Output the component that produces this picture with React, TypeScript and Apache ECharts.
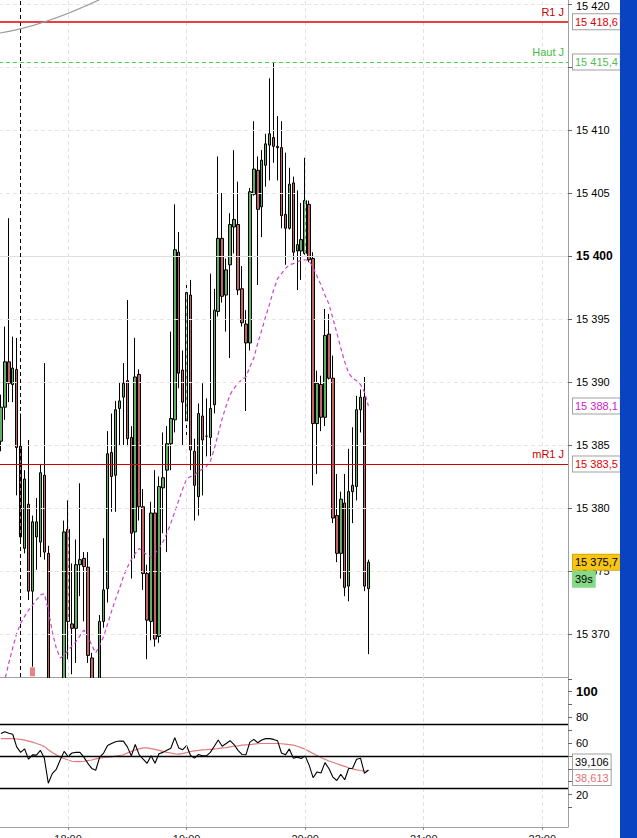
import React, { useEffect, useRef } from 'react';
import * as echarts from 'echarts';

// ---------- data ----------
const START_MIN = 17 * 60 + 26; // first 2-minute candle 17:26
const N_CAT = 144;
const categories: string[] = Array.from({ length: N_CAT }, (_, i) => {
  const m = START_MIN + 2 * i;
  return `${Math.floor(m / 60)}:${String(m % 60).padStart(2, '0')}`;
});
const hourLabels = ['18:00', '19:00', '20:00', '21:00', '22:00'];

// [open, close, low, high]
const ohlc: number[][] = [
  [15385.3, 15388.0, 15384.5, 15389.0],
  [15388.0, 15391.6, 15387.0, 15394.4],
  [15391.6, 15389.9, 15388.4, 15403.0],
  [15389.8, 15391.1, 15388.4, 15393.6],
  [15391.0, 15384.8, 15381.0, 15393.5],
  [15384.9, 15377.7, 15377.2, 15387.5],
  [15376.8, 15382.3, 15376.4, 15383.0],
  [15380.3, 15373.4, 15372.7, 15385.4],
  [15373.4, 15378.9, 15367.4, 15379.4],
  [15377.7, 15378.9, 15375.1, 15380.8],
  [15377.3, 15382.8, 15376.1, 15383.5],
  [15382.6, 15376.5, 15375.9, 15391.5],
  [15376.4, 15366.0, 15365.0, 15377.0],
  [15366.0, 15364.6, 15363.5, 15366.4],
  [15364.6, 15365.4, 15364.0, 15366.2],
  [15365.4, 15366.0, 15364.8, 15366.5],
  [15366.0, 15378.1, 15365.5, 15379.0],
  [15378.3, 15371.0, 15368.0, 15380.6],
  [15370.8, 15370.45, 15366.8, 15375.6],
  [15370.45, 15375.5, 15367.7, 15377.5],
  [15375.5, 15375.9, 15373.0, 15381.96],
  [15376.0, 15375.35, 15371.0, 15376.5],
  [15375.3, 15368.3, 15367.7, 15376.5],
  [15368.1, 15366.3, 15365.5, 15368.5],
  [15366.3, 15365.8, 15365.0, 15366.5],
  [15366.0, 15371.0, 15365.5, 15371.5],
  [15371.0, 15373.5, 15370.5, 15377.6],
  [15373.6, 15384.3, 15372.5, 15386.1],
  [15384.4, 15382.5, 15379.7, 15387.5],
  [15382.6, 15387.8, 15379.7, 15388.5],
  [15387.9, 15388.5, 15385.0, 15390.0],
  [15388.8, 15389.9, 15385.0, 15391.5],
  [15390.1, 15385.5, 15384.9, 15396.5],
  [15385.6, 15378.0, 15374.4, 15386.5],
  [15378.1, 15390.4, 15376.0, 15393.5],
  [15390.6, 15380.1, 15379.0, 15391.0],
  [15380.1, 15374.8, 15373.5, 15381.5],
  [15374.8, 15371.1, 15368.0, 15375.5],
  [15371.0, 15379.6, 15369.5, 15380.5],
  [15379.6, 15369.6, 15369.0, 15383.0],
  [15369.8, 15381.7, 15369.3, 15382.5],
  [15381.6, 15382.4, 15378.0, 15386.0],
  [15383.0, 15385.1, 15376.5, 15386.5],
  [15385.1, 15387.1, 15383.0, 15394.0],
  [15387.0, 15400.5, 15386.0, 15404.1],
  [15400.3, 15390.7, 15389.5, 15401.9],
  [15390.95, 15388.4, 15385.0, 15392.5],
  [15386.9, 15397.1, 15385.5, 15397.7],
  [15396.9, 15384.6, 15383.0, 15398.1],
  [15384.5, 15381.8, 15379.0, 15385.5],
  [15380.9, 15387.5, 15379.4, 15388.3],
  [15387.3, 15385.4, 15381.0, 15389.9],
  [15385.7, 15385.7, 15384.1, 15388.7],
  [15385.6, 15387.9, 15384.1, 15398.6],
  [15388.2, 15395.7, 15387.5, 15397.4],
  [15395.6, 15401.4, 15395.2, 15407.9],
  [15401.4, 15396.8, 15396.3, 15405.0],
  [15396.9, 15398.9, 15394.0, 15399.8],
  [15399.3, 15402.5, 15391.9, 15403.4],
  [15402.3, 15402.9, 15400.2, 15408.4],
  [15402.5, 15397.3, 15396.9, 15405.9],
  [15397.4, 15394.7, 15394.4, 15399.2],
  [15394.6, 15393.1, 15387.7, 15395.7],
  [15393.1, 15405.1, 15392.5, 15405.4],
  [15404.9, 15406.9, 15404.8, 15410.7],
  [15406.8, 15403.7, 15397.7, 15407.9],
  [15403.9, 15407.6, 15401.5, 15408.4],
  [15407.2, 15408.9, 15405.5, 15409.7],
  [15408.8, 15409.7, 15406.0, 15414.1],
  [15409.4, 15408.7, 15407.4, 15415.4],
  [15408.7, 15408.6, 15406.0, 15411.1],
  [15408.6, 15403.2, 15402.2, 15410.7],
  [15403.3, 15402.2, 15399.3, 15408.2],
  [15402.2, 15405.7, 15402.1, 15407.0],
  [15405.8, 15400.3, 15399.7, 15406.3],
  [15400.4, 15400.9, 15397.3, 15405.2],
  [15400.4, 15401.3, 15398.1, 15404.2],
  [15400.2, 15404.4, 15400.1, 15407.8],
  [15404.1, 15399.7, 15399.5, 15404.4],
  [15399.8, 15386.7, 15381.8, 15400.3],
  [15386.7, 15389.9, 15382.7, 15390.9],
  [15389.8, 15387.2, 15386.1, 15390.5],
  [15387.2, 15393.7, 15386.5, 15395.8],
  [15393.8, 15390.3, 15390.2, 15395.4],
  [15390.3, 15379.2, 15378.8, 15392.1],
  [15379.4, 15376.4, 15375.7, 15382.7],
  [15376.4, 15380.7, 15374.4, 15381.3],
  [15380.4, 15373.7, 15373.0, 15382.7],
  [15373.8, 15381.3, 15372.6, 15384.7],
  [15381.3, 15381.8, 15378.8, 15386.4],
  [15381.7, 15387.8, 15380.6, 15388.9],
  [15387.8, 15388.8, 15386.0, 15389.4],
  [15388.8, 15373.8, 15373.4, 15390.4],
  [15373.6, 15375.7, 15368.4, 15375.9],
];

const movingAvg: number[] = [
  15366.2, 15366.35, 15367.7, 15368.9, 15370.05, 15370.85, 15371.4, 15371.9, 15372.3, 15372.7,
  15373.1, 15373.2, 15371.9, 15370.2, 15368.9, 15368.1, 15368.3, 15368.7, 15369.05, 15369.4,
  15369.85, 15370.3, 15369.85, 15369.1, 15368.5, 15369.1, 15369.8, 15370.8, 15371.8, 15372.75,
  15373.6, 15374.55, 15375.3, 15375.9, 15376.4, 15376.8, 15376.5, 15376.3, 15376.1, 15376.4,
  15376.8, 15377.3, 15378.0, 15378.8, 15379.7, 15380.6, 15381.5, 15382.3, 15382.5, 15382.6,
  15382.9, 15383.1, 15383.3, 15383.7, 15384.7, 15385.9, 15387.1, 15388.1, 15389.0, 15389.5,
  15389.9, 15390.2, 15390.4, 15391.2, 15391.9, 15393.1, 15394.1, 15395.2, 15396.2, 15397.3,
  15398.2, 15398.6, 15399.0, 15399.3, 15399.4, 15399.5, 15399.7, 15399.7, 15399.6, 15399.1,
  15398.4, 15397.7, 15396.9, 15396.2, 15395.05, 15393.9, 15392.7, 15391.6, 15390.7, 15390.3,
  15390.1, 15389.8, 15389.2, 15388.1,
];

const oscK: number[] = [
  67.5, 68.8, 67.7, 66.9, 57.1, 52.8, 55.5, 47.5, 50.9, 50.7,
  54.4, 48.3, 28.8, 36.3, 39.5, 46.9, 53.6, 49.6, 52.3, 52.8,
  52.8, 49.1, 44.3, 40.3, 38.9, 49.1, 52.3, 58.1, 59.7, 61.1,
  61.6, 61.6, 57.1, 50.1, 58.9, 50.9, 47.5, 44.3, 50.1, 44.3,
  51.7, 52.8, 54.4, 56.0, 64.3, 56.3, 54.9, 58.0, 50.4, 48.3,
  51.2, 50.1, 50.1, 52.8, 57.6, 62.4, 57.6, 59.7, 61.9, 58.9,
  54.4, 51.2, 50.9, 60.8, 62.9, 60.3, 62.4, 63.5, 63.5, 62.9,
  61.9, 52.3, 50.9, 55.5, 48.3, 49.1, 48.0, 50.1, 42.9, 33.1,
  37.6, 36.8, 44.8, 40.3, 33.6, 30.9, 35.7, 31.5, 40.3, 40.5,
  47.5, 48.3, 36.5, 39.1,
];

const oscD: number[] = [
  63.5, 63.5, 63.5, 63.5, 63.2, 62.9, 62.4, 61.6, 60.8, 59.7,
  58.7, 57.3, 54.9, 52.8, 50.9, 49.1, 48.0, 46.9, 45.9, 45.6,
  45.6, 45.9, 46.4, 46.9, 47.7, 48.3, 48.8, 49.1, 49.3, 49.9,
  50.4, 50.9, 52.3, 53.6, 54.7, 55.5, 56.3, 56.3, 55.7, 55.2,
  54.4, 53.6, 52.8, 52.3, 51.7, 51.5, 51.9, 52.6, 53.5, 54.0,
  54.3, 54.7, 54.9, 55.2, 55.5, 55.7, 56.3, 56.5, 57.1, 57.6,
  57.9, 58.4, 58.7, 58.9, 59.2, 59.5, 59.7, 59.7, 59.7, 59.7,
  59.7, 59.5, 59.2, 58.9, 58.4, 57.6, 56.5, 55.2, 53.6, 52.0,
  50.4, 48.8, 47.5, 46.1, 45.1, 44.0, 42.9, 41.9, 40.8, 40.0,
  39.2, 38.7, 38.1, 38.6,
];

const priceTicks = [15370, 15375, 15380, 15385, 15390, 15395, 15400, 15405, 15410, 15415, 15420];
// 15 415 is covered by the "Haut J" value box in the reference
const priceLabels = [15370, 15375, 15380, 15385, 15390, 15395, 15400, 15405, 15410, 15420];
const oscTicks = [10, 20, 30, 40, 50, 60, 70, 80, 90, 100, 110];
// 40 is covered by the oscillator value box in the reference
const oscLabels = [20, 60, 80, 100];
const oscLevels = [25, 50, 75];
const levelR1 = 15418.6;
const levelHigh = 15415.4;
const levelMR1 = 15383.5;
const lastMA = 15388.1;
const lastPrice = 15375.7;
const timerText = '39s';
const lastK = 39.106;
const lastD = 38.613;
const sessionLineCat = '17:36';
const signalMarks = [{ cat: '17:42', price: 15367.0 }];

// ---------- helpers ----------
const group = (s: string) => s.replace(/\B(?=(\d{3})+(?!\d))/g, ' ');
const fmtNum = (v: number, d: number, grp: boolean) => {
  const [a, b] = v.toFixed(d).split('.');
  const ip = grp ? group(a) : a;
  return b ? `${ip},${b}` : ip;
};

const FONT = 'Liberation Sans, Arial, sans-serif';

const boxItem = (value: number, text: string, color: string, extra: any = {}) => ({
  yAxis: value,
  lineStyle: { color: 'rgba(0,0,0,0)', width: 0 },
  label: {
    show: true,
    position: 'end',
    distance: 5,
    formatter: text,
    color,
    fontSize: 11,
    fontFamily: FONT,
    backgroundColor: '#ffffff',
    borderColor: '#a0a0a0',
    borderWidth: 1,
    padding: [2, 2, 2, 2],
    ...extra,
  },
});

const levelSeries = (name: string, value: number, text: string, lineColor: string, textColor: string, dashed: boolean, width: number) => ({
  name, type: 'line', xAxisIndex: 0, yAxisIndex: 0, data: [], z: 5,
  color: lineColor,
  markLine: {
    silent: true, symbol: 'none',
    lineStyle: { color: lineColor, width, type: dashed ? [4, 3] : 'solid', opacity: 1 },
    label: { show: true, position: 'insideEndTop', formatter: text, color: textColor, fontSize: 11, distance: 4 },
    data: [{ yAxis: value }],
  },
});

export default function App() {
  const ref = useRef<HTMLDivElement>(null);
  useEffect(() => {
    if (!ref.current) return;
    const chart = echarts.init(ref.current, undefined, { renderer: 'svg' });

    const gridLinesPrice = priceTicks.map((v) => ({
      yAxis: v,
      lineStyle: v === 15400
        ? { color: '#dedede', width: 1, type: 'solid' }
        : { color: '#e6e6e6', width: 1, type: [4, 3] },
    }));
    const vLines = () => hourLabels.map((h) => ({
      xAxis: h,
      lineStyle: { color: '#e2e2e2', width: 1, type: [4, 3] },
    }));

    const priceLabelFmt = (v: number) => {
      const s = fmtNum(v, 0, true);
      if (v === 15400) return `{b|${s}}`;
      if (v === 15420) return `{t|${s}}`;
      return s;
    };

    const option: any = {
      animation: false,
      textStyle: { fontFamily: FONT },
      grid: [
        { left: -1.1, right: 69, top: 0, height: 677, outerBoundsMode: 'none', containLabel: false },
        { left: -1.1, right: 69, top: 677, height: 150, outerBoundsMode: 'none', containLabel: false },
      ],
      xAxis: [
        {
          type: 'category', gridIndex: 0, data: categories, boundaryGap: true,
          axisLabel: { show: false }, axisTick: { show: false },
          axisLine: { show: true, onZero: false, lineStyle: { color: '#a0a0a0' } },
          splitLine: { show: false },
        },
        {
          type: 'category', gridIndex: 1, data: categories, boundaryGap: true,
          axisLine: { show: true, onZero: false, lineStyle: { color: '#a0a0a0' } },
          axisTick: {
            show: true, alignWithLabel: true, length: 3,
            interval: (_i: number, v: string) => hourLabels.includes(v),
            lineStyle: { color: '#888' },
          },
          axisLabel: {
            interval: (_i: number, v: string) => hourLabels.includes(v),
            fontSize: 11, color: '#222', margin: 6,
          },
          splitLine: { show: false },
        },
      ],
      yAxis: [
        {
          type: 'value', gridIndex: 0, position: 'right', min: 15366.587, max: 15420.317,
          axisLine: { show: true, lineStyle: { color: '#a0a0a0' } },
          axisTick: { show: true, length: 4, customValues: priceTicks, lineStyle: { color: '#666' } },
          axisLabel: {
            customValues: priceLabels, margin: 8, fontSize: 11, color: '#000',
            formatter: priceLabelFmt,
            rich: {
              b: { fontWeight: 'bold', fontSize: 12, color: '#000' },
              t: { fontSize: 11, color: '#000', padding: [4, 0, 0, 0] },
            },
          },
          splitLine: { show: false },
        },
        {
          type: 'value', gridIndex: 1, position: 'right', min: -5.26, max: 111.46,
          axisLine: { show: true, lineStyle: { color: '#a0a0a0' } },
          axisTick: { show: true, length: 4, customValues: oscTicks, lineStyle: { color: '#666' } },
          axisLabel: {
            customValues: oscLabels, margin: 8, fontSize: 11, color: '#000',
            formatter: (v: number) => (v === 100 ? `{b|${v}}` : `${v}`),
            rich: { b: { fontWeight: 'bold', fontSize: 13, color: '#000' } },
          },
          splitLine: { show: false },
        },
      ],
      graphic: [
        // masks the part of candles that falls below the price pane
        { type: 'rect', shape: { x: 0, y: 678, width: 567.5, height: 148.5 }, style: { fill: '#ffffff' }, z: 2.5 },
        { type: 'rect', shape: { x: 620, y: 0, width: 17, height: 838 }, style: { fill: '#0a43c2' }, z: 10 },
        {
          type: 'bezierCurve',
          shape: { x1: 0, y1: 33, cpx1: 44, cpy1: 26, x2: 101, y2: -1 },
          style: { stroke: '#9a9a9a', lineWidth: 1.2, fill: 'none' },
          z: 10,
        },
      ],
      series: [
        {
          name: 'gridPrice', type: 'line', xAxisIndex: 0, yAxisIndex: 0, data: [], z: 1,
          markLine: {
            silent: true, symbol: 'none', label: { show: false },
            data: [...gridLinesPrice, ...vLines()],
          },
        },
        {
          name: 'gridOsc', type: 'line', xAxisIndex: 1, yAxisIndex: 1, data: [], z: 3,
          markLine: {
            silent: true, symbol: 'none', label: { show: false },
            data: [
              ...vLines(),
              ...oscLevels.map((v) => ({ yAxis: v, lineStyle: { color: '#000', width: 1.3, type: 'solid' } })),
            ],
          },
        },
        {
          name: 'price', type: 'candlestick', xAxisIndex: 0, yAxisIndex: 0,
          data: ohlc, barWidth: 3, z: 2,
          itemStyle: {
            color: '#62ad62', color0: '#c06464',
            borderColor: '#000', borderColor0: '#000', borderWidth: 1,
          },
        },
        {
          name: 'ma', type: 'line', xAxisIndex: 0, yAxisIndex: 0, data: movingAvg,
          symbol: 'none', z: 3,
          lineStyle: { color: '#cc44cc', width: 1.2, type: [4, 3] },
        },
        {
          name: 'signal', type: 'scatter', xAxisIndex: 0, yAxisIndex: 0,
          data: signalMarks.map((s) => [s.cat, s.price]),
          symbol: 'rect', symbolSize: [5, 9], z: 3,
          itemStyle: { color: '#e06464' },
        },
        {
          name: 'session', type: 'line', xAxisIndex: 0, yAxisIndex: 0, data: [], z: 4,
          markLine: {
            silent: true, symbol: 'none', label: { show: false },
            lineStyle: { color: '#000', width: 1, type: [4, 3] },
            data: [{ xAxis: sessionLineCat }],
          },
        },
        levelSeries('R1', levelR1, 'R1 J', '#e00000', '#cc0000', false, 1.5),
        levelSeries('HautJ', levelHigh, 'Haut J', '#4fcf4f', '#44bb44', true, 1.2),
        levelSeries('mR1', levelMR1, 'mR1 J', '#d00000', '#cc0000', false, 1.2),
        {
          name: 'boxes', type: 'line', xAxisIndex: 0, yAxisIndex: 0, data: [], z: 6,
          markLine: {
            silent: true, symbol: 'none',
            data: [
              boxItem(levelR1, fmtNum(levelR1, 1, true), '#dd0000'),
              boxItem(levelHigh, fmtNum(levelHigh, 1, true), '#55bb55'),
              boxItem(levelMR1, fmtNum(levelMR1, 1, true), '#dd0000'),
              boxItem(lastMA, fmtNum(lastMA, 1, true), '#cc22cc'),
              boxItem(lastPrice, fmtNum(lastPrice, 1, true), '#000', { backgroundColor: '#f5c518', borderColor: '#d4a800' }),
              boxItem(lastPrice, timerText, '#000', { backgroundColor: '#86d986', borderColor: '#86d986', offset: [0, 17] }),
            ],
          },
        },
        {
          name: 'oscD', type: 'line', xAxisIndex: 1, yAxisIndex: 1, data: oscD,
          symbol: 'none', z: 3, lineStyle: { color: '#e07c7c', width: 1.2 },
        },
        {
          name: 'oscK', type: 'line', xAxisIndex: 1, yAxisIndex: 1, data: oscK,
          symbol: 'none', z: 4, lineStyle: { color: '#000', width: 1.1 },
        },
        {
          name: 'oscBoxes', type: 'line', xAxisIndex: 1, yAxisIndex: 1, data: [], z: 6,
          markLine: {
            silent: true, symbol: 'none',
            data: [
              boxItem(lastK, fmtNum(lastK, 3, false), '#000', { offset: [0, -8] }),
              boxItem(lastD, fmtNum(lastD, 3, false), '#e07070', { offset: [0, 7] }),
            ],
          },
        },
      ],
    };
    chart.setOption(option);
    return () => chart.dispose();
  }, []);
  return <div ref={ref} style={{ position: 'fixed', left: 0, top: 0, width: 637, height: 838, background: '#fff' }} />;
}
